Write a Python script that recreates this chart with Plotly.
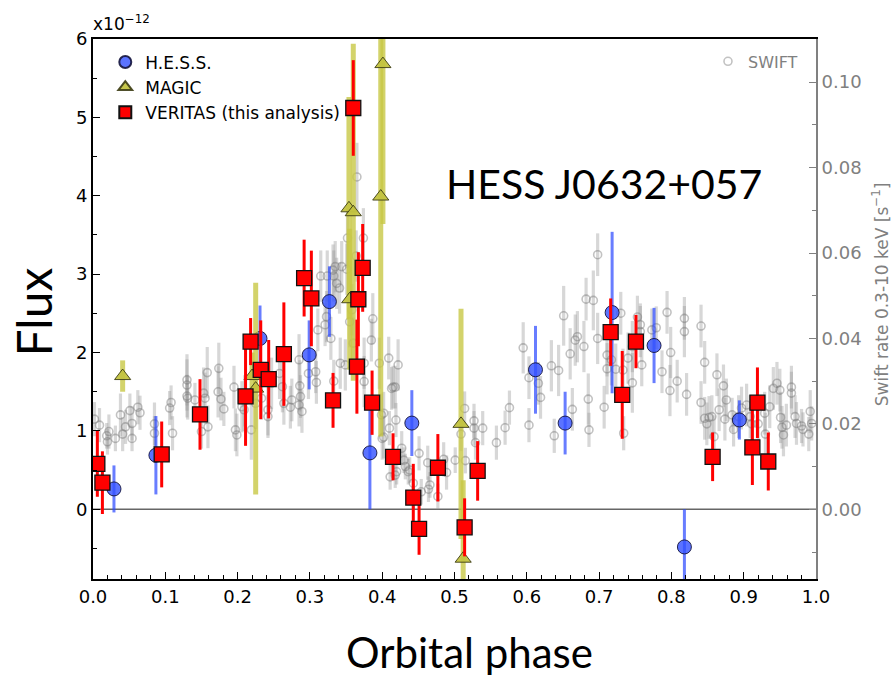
import plotly.graph_objects as go

# ---------------- data ----------------
hess_phase = [0.029, 0.087, 0.231, 0.299, 0.327, 0.383, 0.441, 0.612, 0.653, 0.718, 0.776, 0.818, 0.894]
hess_flux = [0.26, 0.69, 2.18, 1.97, 2.65, 0.72, 1.10, 1.78, 1.10, 2.51, 2.09, -0.48, 1.14]
hess_err = [0.30, 0.50, 0.42, 0.44, 0.45, 0.72, 0.42, 0.56, 0.40, 1.03, 0.48, 0.48, 0.25]

magic_phase = [0.041, 0.220, 0.225, 0.354, 0.355, 0.360, 0.398, 0.401, 0.509, 0.512]
magic_flux = [1.70, 1.70, 1.54, 3.84, 2.68, 3.79, 3.99, 5.68, 1.09, -0.63]
magic_err = [0.20, 0.30, 1.35, 1.42, 0.90, 2.15, 3.06, 2.04, 1.47, 1.00]

veritas_phase = [0.006, 0.013, 0.095, 0.148, 0.211, 0.218, 0.232, 0.243, 0.264, 0.292,
                 0.302, 0.332, 0.360, 0.365, 0.367, 0.373, 0.386, 0.415, 0.443, 0.451,
                 0.477, 0.514, 0.532, 0.716, 0.732, 0.751, 0.857, 0.912, 0.919, 0.934]
veritas_flux = [0.58, 0.34, 0.70, 1.21, 1.44, 2.14, 1.78, 1.66, 1.98, 2.95,
                2.69, 1.39, 5.12, 1.82, 2.68, 3.08, 1.36, 0.67, 0.15, -0.25,
                0.53, -0.23, 0.49, 2.26, 1.46, 2.14, 0.67, 0.79, 1.36, 0.61]
veritas_err = [0.42, 0.40, 0.42, 0.45, 0.63, 0.30, 0.63, 0.50, 0.66, 0.49,
               0.61, 0.35, 0.61, 0.60, 0.60, 0.56, 0.41, 0.30, 0.43, 0.33,
               0.43, 0.37, 0.38, 0.43, 0.56, 0.34, 0.31, 0.48, 0.45, 0.37]

swift_phase = [
    0.002, 0.009, 0.019, 0.022, 0.020, 0.031, 0.038, 0.041, 0.045, 0.051, 0.054, 0.054,
    0.062, 0.065, 0.085, 0.085, 0.106, 0.108, 0.110, 0.130, 0.130, 0.130, 0.131, 0.141,
    0.150, 0.153, 0.155, 0.158, 0.159, 0.173, 0.174, 0.177, 0.181, 0.195, 0.197, 0.199,
    0.206, 0.209, 0.210, 0.219, 0.225, 0.233, 0.242, 0.242, 0.247, 0.258, 0.262, 0.264,
    0.275, 0.273, 0.285, 0.286, 0.287, 0.285, 0.289, 0.298, 0.308, 0.309, 0.311, 0.315,
    0.321, 0.323, 0.324, 0.329, 0.332, 0.333, 0.333, 0.335, 0.337, 0.341, 0.342, 0.344,
    0.349, 0.351, 0.352, 0.355, 0.358, 0.360, 0.364, 0.365, 0.374, 0.375, 0.375, 0.385,
    0.387, 0.396, 0.399, 0.400, 0.402, 0.402, 0.409, 0.410, 0.411, 0.413, 0.415, 0.418,
    0.418, 0.419, 0.420, 0.422, 0.427, 0.430, 0.432, 0.436, 0.438, 0.443, 0.443, 0.451,
    0.454, 0.463, 0.464, 0.466, 0.477, 0.485, 0.489, 0.501, 0.509, 0.514, 0.515, 0.527,
    0.527, 0.529, 0.539, 0.558, 0.570, 0.576, 0.595, 0.603, 0.603, 0.616, 0.619, 0.634,
    0.638, 0.644, 0.651, 0.660, 0.663, 0.667, 0.670, 0.679, 0.682, 0.685, 0.686, 0.692,
    0.698, 0.698, 0.707, 0.711, 0.711, 0.717, 0.723, 0.730, 0.733, 0.734, 0.740, 0.746,
    0.746, 0.753, 0.757, 0.757, 0.759, 0.773, 0.779, 0.787, 0.794, 0.798, 0.799, 0.808,
    0.818, 0.818, 0.821, 0.841, 0.841, 0.846, 0.846, 0.849, 0.852, 0.856, 0.859, 0.863,
    0.866, 0.872, 0.874, 0.876, 0.884, 0.886, 0.893, 0.897, 0.904, 0.909, 0.911, 0.920,
    0.929, 0.930, 0.936, 0.941, 0.946, 0.950, 0.951, 0.953, 0.955, 0.959, 0.966, 0.966,
    0.971, 0.973, 0.980, 0.982, 0.990, 0.992, 0.994]
swift_rate = [
    0.0211, 0.0197, 0.0172, 0.0182, 0.0158, 0.0166, 0.0221, 0.0176, 0.0193, 0.0231, 0.0201, 0.0166,
    0.0239, 0.0226, 0.0200, 0.0178, 0.0237, 0.0250, 0.0178, 0.0303, 0.0291, 0.0265, 0.0260, 0.0256,
    0.0182, 0.0272, 0.0260, 0.0320, 0.0193, 0.0275, 0.0330, 0.0258, 0.0235, 0.0286, 0.0186, 0.0174,
    0.0240, 0.0233, 0.0254, 0.0186, 0.0248, 0.0260, 0.0217, 0.0233, 0.0295, 0.0318, 0.0287, 0.0248,
    0.0256, 0.0239, 0.0350, 0.0289, 0.0264, 0.0244, 0.0229, 0.0318, 0.0322, 0.0297, 0.0420, 0.0546,
    0.0432, 0.0451, 0.0546, 0.0400, 0.0560, 0.0546, 0.0300, 0.0568, 0.0529, 0.0518, 0.0342, 0.0568,
    0.0338, 0.0562, 0.0635, 0.0439, 0.0467, 0.0389, 0.0593, 0.0778, 0.0635, 0.0342, 0.0299, 0.0396,
    0.0446, 0.0342, 0.0221, 0.0166, 0.0225, 0.0169, 0.0354, 0.0190, 0.0076, 0.0283, 0.0286, 0.0080,
    0.0286, 0.0209, 0.0088, 0.0338, 0.0143, 0.0115, 0.0100, 0.0088, 0.0092, 0.0061, 0.0030, 0.0131,
    0.0041, 0.0109, 0.0047, 0.0057, 0.0030, 0.0117, 0.0086, 0.0115, 0.0176, 0.0236, 0.0114, 0.0207,
    0.0190, 0.0156, 0.0190, 0.0156, 0.0191, 0.0238, 0.0378, 0.0308, 0.0197, 0.0295, 0.0262, 0.0336,
    0.0172, 0.0325, 0.0453, 0.0364, 0.0234, 0.0396, 0.0404, 0.0381, 0.0492, 0.0258, 0.0186, 0.0489,
    0.0400, 0.0596, 0.0239, 0.0361, 0.0329, 0.0350, 0.0328, 0.0459, 0.0326, 0.0178, 0.0354, 0.0296,
    0.0381, 0.0450, 0.0432, 0.0416, 0.0338, 0.0420, 0.0425, 0.0322, 0.0461, 0.0278, 0.0367, 0.0300,
    0.0447, 0.0416, 0.0269, 0.0429, 0.0250, 0.0344, 0.0213, 0.0200, 0.0215, 0.0217, 0.0170, 0.0315,
    0.0233, 0.0289, 0.0211, 0.0256, 0.0221, 0.0187, 0.0217, 0.0237, 0.0244, 0.0217, 0.0200, 0.0200,
    0.0225, 0.0176, 0.0240, 0.0283, 0.0295, 0.0279, 0.0215, 0.0192, 0.0174, 0.0197, 0.0286, 0.0272,
    0.0217, 0.0201, 0.0195, 0.0187, 0.0176, 0.0229, 0.0201]
swift_err = [
    0.004, 0.004, 0.003, 0.004, 0.003, 0.003, 0.005, 0.004, 0.004, 0.004, 0.004, 0.003,
    0.004, 0.004, 0.005, 0.004, 0.004, 0.004, 0.004, 0.006, 0.006, 0.005, 0.005, 0.004,
    0.004, 0.006, 0.006, 0.006, 0.005, 0.006, 0.006, 0.005, 0.004, 0.005, 0.005, 0.005,
    0.006, 0.005, 0.006, 0.007, 0.006, 0.005, 0.005, 0.006, 0.006, 0.006, 0.006, 0.005,
    0.005, 0.005, 0.006, 0.006, 0.005, 0.005, 0.005, 0.006, 0.005, 0.005, 0.005, 0.006,
    0.005, 0.006, 0.006, 0.005, 0.006, 0.006, 0.005, 0.006, 0.006, 0.006, 0.006, 0.006,
    0.006, 0.006, 0.007, 0.006, 0.006, 0.006, 0.006, 0.008, 0.007, 0.006, 0.006, 0.005,
    0.006, 0.006, 0.005, 0.005, 0.005, 0.005, 0.005, 0.004, 0.003, 0.005, 0.005, 0.003,
    0.005, 0.004, 0.003, 0.006, 0.004, 0.003, 0.003, 0.003, 0.003, 0.003, 0.003, 0.004,
    0.003, 0.004, 0.003, 0.003, 0.003, 0.004, 0.004, 0.003, 0.004, 0.004, 0.003, 0.004,
    0.004, 0.004, 0.004, 0.004, 0.004, 0.004, 0.006, 0.005, 0.004, 0.005, 0.005, 0.006,
    0.004, 0.006, 0.007, 0.006, 0.005, 0.006, 0.006, 0.006, 0.005, 0.006, 0.004, 0.007,
    0.006, 0.005, 0.005, 0.005, 0.006, 0.006, 0.006, 0.005, 0.005, 0.004, 0.006, 0.007,
    0.006, 0.005, 0.005, 0.006, 0.005, 0.005, 0.005, 0.005, 0.005, 0.006, 0.006, 0.005,
    0.005, 0.006, 0.005, 0.005, 0.005, 0.005, 0.005, 0.005, 0.005, 0.005, 0.005, 0.005,
    0.005, 0.005, 0.005, 0.005, 0.004, 0.004, 0.005, 0.005, 0.005, 0.005, 0.005, 0.005,
    0.005, 0.005, 0.005, 0.005, 0.005, 0.005, 0.006, 0.005, 0.005, 0.005, 0.005, 0.005,
    0.005, 0.005, 0.004, 0.004, 0.004, 0.005, 0.004]

x_ticks = [0.0, 0.1, 0.2, 0.3, 0.4, 0.5, 0.6, 0.7, 0.8, 0.9, 1.0]
flux_ticks = [0, 1, 2, 3, 4, 5, 6]
swift_ticks = [0.00, 0.02, 0.04, 0.06, 0.08, 0.10]

# ---------------- figure ----------------
fig = go.Figure()

# SWIFT on the primary (right-side) axis so it is drawn underneath
fig.add_trace(go.Scatter(
    x=swift_phase, y=swift_rate, mode="markers", name="SWIFT",
    error_y=dict(type="data", array=swift_err, color="rgba(150,150,150,0.38)", thickness=3.2, width=0),
    marker=dict(symbol="circle-open", size=8, color="rgba(120,120,120,0.45)", line=dict(width=1.6)),
    xaxis="x", yaxis="y", legend="legend2",
))

fig.add_trace(go.Scatter(
    x=hess_phase, y=hess_flux, mode="markers", name="H.E.S.S.",
    error_y=dict(type="data", array=hess_err, color="rgba(40,70,255,0.7)", thickness=3, width=0),
    marker=dict(symbol="circle", size=14, color="rgba(50,80,255,0.8)",
                line=dict(color="rgba(20,20,60,0.9)", width=1)),
    xaxis="x", yaxis="y2",
))
fig.add_trace(go.Scatter(
    x=magic_phase, y=magic_flux, mode="markers", name="MAGIC",
    error_y=dict(type="data", array=magic_err, color="rgba(200,200,70,0.8)", thickness=5, width=0),
    marker=dict(symbol="triangle-up", size=14, color="rgba(195,195,65,0.95)",
                line=dict(color="rgba(60,60,20,0.9)", width=1)),
    xaxis="x", yaxis="y2",
))
fig.add_trace(go.Scatter(
    x=veritas_phase, y=veritas_flux, mode="markers", name="VERITAS (this analysis)",
    error_y=dict(type="data", array=veritas_err, color="#ff0000", thickness=3, width=0),
    marker=dict(symbol="square", size=15, color="#ff0000", line=dict(color="#111111", width=1.3)),
    xaxis="x", yaxis="y2",
))

# zero line
fig.add_shape(type="line", xref="paper", x0=0, x1=1, yref="y2", y0=0, y1=0,
              line=dict(color="#666666", width=1.5), layer="below")

tickfont = dict(family="DejaVu Sans", size=18, color="black")
fig.update_layout(
    width=895, height=678,
    margin=dict(l=93, r=79, t=39, b=99),
    paper_bgcolor="white", plot_bgcolor="white",
    showlegend=True,
    xaxis=dict(range=[0, 1], tickvals=x_ticks, ticktext=[f"{v:.1f}" for v in x_ticks],
               ticks="inside", ticklen=7, tickwidth=1.3, tickcolor="black",
               minor=dict(dtick=0.02, ticks="inside", ticklen=4, tickcolor="black"),
               showline=True, linecolor="black", linewidth=2, mirror=True,
               showgrid=False, zeroline=False, tickfont=tickfont),
    yaxis=dict(range=[-0.01632, 0.1101], side="right", tickvals=swift_ticks,
               ticktext=[f"{v:.2f}" for v in swift_ticks],
               ticks="inside", ticklen=7, tickwidth=1.3, tickcolor="#808080",
               minor=dict(dtick=0.01, ticks="inside", ticklen=4, tickcolor="#808080"),
               showline=True, linecolor="#808080", linewidth=2,
               showgrid=False, zeroline=False,
               tickfont=dict(family="DejaVu Sans", size=18, color="#808080")),
    yaxis2=dict(range=[-0.889, 6.0], overlaying="y", side="left", tickvals=flux_ticks,
                ticks="inside", ticklen=7, tickwidth=1.3, tickcolor="black",
                minor=dict(dtick=0.5, ticks="inside", ticklen=4, tickcolor="black"),
                showline=True, linecolor="black", linewidth=2,
                showgrid=False, zeroline=False, tickfont=tickfont),
    legend=dict(x=0.017, y=0.99, xanchor="left", yanchor="top", bgcolor="rgba(0,0,0,0)",
                font=dict(family="DejaVu Sans", size=17, color="black"),
                traceorder="normal", tracegroupgap=0, itemsizing="constant"),
    legend2=dict(x=0.982, y=0.99, xanchor="right", yanchor="top", bgcolor="rgba(0,0,0,0)",
                 font=dict(family="DejaVu Sans", size=16, color="#808080")),
    annotations=[
        dict(text="x10<sup>\u221212</sup>", xref="paper", yref="paper", x=-0.003, y=1.005,
             xanchor="left", yanchor="bottom", showarrow=False,
             font=dict(family="DejaVu Sans", size=17, color="black")),
        dict(text="Flux", xref="paper", yref="paper", x=-0.082, y=0.495, textangle=-90,
             xanchor="center", yanchor="middle", showarrow=False,
             font=dict(family="Lato", size=48, color="black")),
        dict(text="Orbital phase", xref="paper", yref="paper", x=0.521, y=-0.135,
             xanchor="center", yanchor="middle", showarrow=False,
             font=dict(family="Lato", size=42, color="black")),
        dict(text="HESS J0632+057", xref="paper", yref="paper", x=0.707, y=0.733,
             xanchor="center", yanchor="middle", showarrow=False,
             font=dict(family="Lato", size=41, color="black")),
        dict(text="Swift rate 0.3-10 keV [s<sup>\u22121</sup>]", xref="paper", yref="paper",
             x=1.089, y=0.528, textangle=-90, xanchor="center", yanchor="middle", showarrow=False,
             font=dict(family="DejaVu Sans", size=17, color="#808080")),
    ],
)

fig.write_html("out.html")
